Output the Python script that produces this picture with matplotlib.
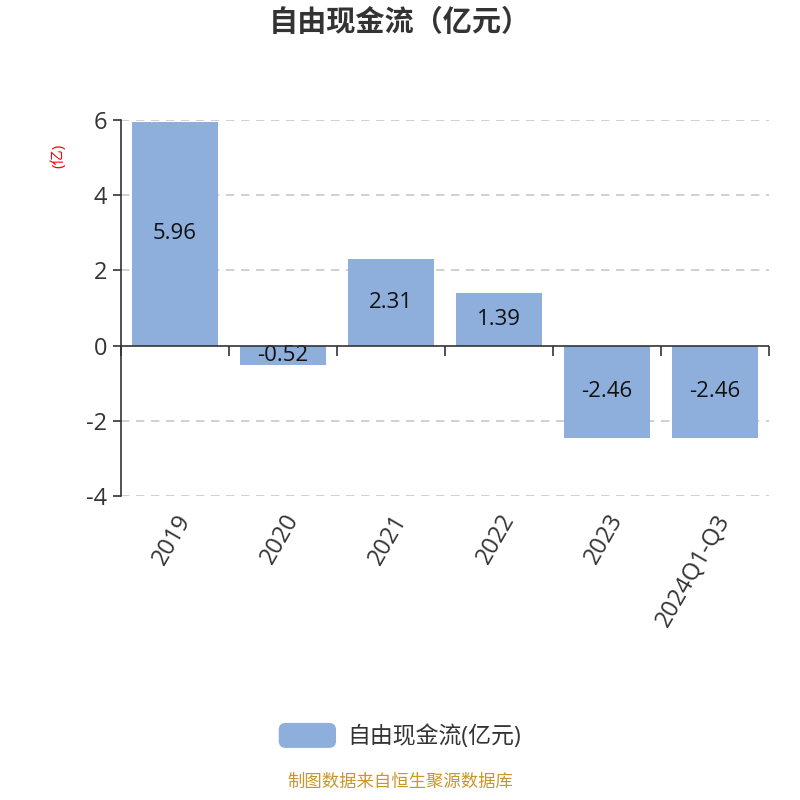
import matplotlib
matplotlib.use("Agg")
import matplotlib.pyplot as plt
from matplotlib.patches import FancyBboxPatch, Rectangle
from matplotlib.legend_handler import HandlerPatch

plt.rcParams['font.family'] = ['Open Sans', 'Noto Sans CJK SC', 'DejaVu Sans']

years = ["2019", "2020", "2021", "2022", "2023", "2024Q1-Q3"]
fcf = [5.96, -0.52, 2.31, 1.39, -2.46, -2.46]
yticks = [-4, -2, 0, 2, 4, 6]

BAR = "#8eaedb"
TXT = "#333333"


class RoundHandler(HandlerPatch):
    def create_artists(self, legend, orig, xd, yd, w, h, fs, trans):
        p = FancyBboxPatch((-xd, -yd), w, h, boxstyle="round,pad=0,rounding_size=5",
                           fc=BAR, ec="none", transform=trans)
        return [p]


fig = plt.figure(figsize=(8, 8), dpi=100)
ax = fig.add_axes([0.151, 0.38, 0.81, 0.47])
x = range(len(years))
bars = ax.bar(x, fcf, width=0.8, color=BAR, zorder=3)
for b, v in zip(bars, fcf):
    ax.text(b.get_x() + b.get_width() / 2, v / 2, f"{v:.2f}", ha="center", va="center",
            fontsize=16, color="#111111", zorder=4)

ax.set_xlim(-0.5, len(years) - 0.5)
ax.set_ylim(-4, 6)
ax.set_yticks(yticks)
ax.set_yticklabels([str(t) for t in yticks], fontsize=17, color=TXT)
for t in yticks:
    if t != 0:
        ax.axhline(t, color="#c8c8c8", lw=1.2, ls=(0, (5, 4)), zorder=1)
ax.axhline(0, color=TXT, lw=1.2, zorder=5)

ax.set_xticks(list(x))
ax.set_xticklabels(years, rotation=60, ha="right", rotation_mode="anchor", fontsize=17, color=TXT)
ax.tick_params(axis="x", length=0, pad=10)
ax.tick_params(axis="y", length=6, width=1.2, color=TXT, pad=4)
for s in ["top", "right", "bottom"]:
    ax.spines[s].set_visible(False)
ax.spines["left"].set_color(TXT)
ax.spines["left"].set_linewidth(1.2)

# category boundary ticks on the zero line
zero_pos = (0 - (-4)) / (6 - (-4))
sec = ax.secondary_xaxis(zero_pos)
sec.set_xticks([i - 0.5 for i in range(len(years) + 1)])
sec.set_xticklabels([])
sec.tick_params(length=7, width=1.2, color=TXT)
sec.spines["bottom"].set_visible(False)

fig.text(0.073, 0.805, "(亿)", rotation=90, color="red", fontsize=11, ha="center", va="center")
fig.text(0.5, 0.972, "自由现金流（亿元）", ha="center", va="center", fontsize=21,
         fontweight="bold", color=TXT, family=["Noto Sans CJK SC", "DejaVu Sans"])

leg = fig.legend(handles=[Rectangle((0, 0), 1, 1)], labels=["自由现金流(亿元)"], loc="center",
                 bbox_to_anchor=(0.5, 0.08), frameon=False, fontsize=16.5, handlelength=2.5,
                 handleheight=1.3, handletextpad=0.5,
                 handler_map={Rectangle: RoundHandler()})
for t in leg.get_texts():
    t.set_color(TXT)

fig.text(0.5, 0.021, "制图数据来自恒生聚源数据库", ha="center", va="center", fontsize=12.5, color="#c8962a")

fig.savefig("out.png", dpi=100)
